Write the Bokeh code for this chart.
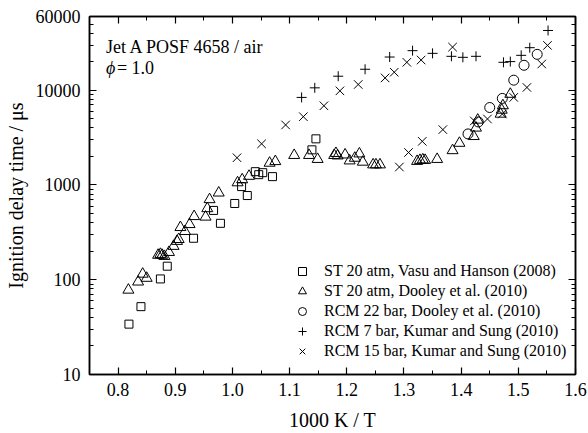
from bokeh.plotting import figure
from bokeh.models import (Range1d, LinearAxis, LogAxis, FixedTicker, PrintfTickFormatter,
                          Legend, LegendItem, Label)
from bokeh.embed import file_html
from bokeh.resources import INLINE

FONT = "Liberation Serif"

# ---- data ----
x_ticks = [0.8, 0.9, 1.0, 1.1, 1.2, 1.3, 1.4, 1.5, 1.6]
x_minor = [0.75, 0.85, 0.95, 1.05, 1.15, 1.25, 1.35, 1.45, 1.55]
y_ticks = [10, 100, 1000, 10000, 60000]
y_minor = [20, 30, 40, 50, 60, 70, 80, 90,
           200, 300, 400, 500, 600, 700, 800, 900,
           2000, 3000, 4000, 5000, 6000, 7000, 8000, 9000,
           20000, 30000, 40000, 50000]

vasu_x = [0.819, 0.840, 0.874, 0.886, 0.932, 0.967, 0.979, 1.004, 1.016, 1.026,
          1.040, 1.046, 1.053, 1.070, 1.139, 1.146]
vasu_y = [34, 52, 102, 139, 274, 539, 394, 638, 962, 774,
          1382, 1285, 1349, 1225, 2350, 3070]

dooley_st_x = [0.818, 0.835, 0.843, 0.850, 0.870, 0.874, 0.877, 0.881, 0.889, 0.897,
               0.903, 0.906, 0.909, 0.917, 0.925, 0.933, 0.953, 0.956, 0.960, 0.976,
               1.009, 1.017, 1.029, 1.065, 1.075, 1.108, 1.134, 1.149, 1.178, 1.181,
               1.184, 1.197, 1.205, 1.214, 1.222, 1.228, 1.246, 1.251, 1.258, 1.323,
               1.328, 1.333, 1.337, 1.358, 1.385, 1.397, 1.422, 1.426, 1.429, 1.469,
               1.471, 1.473, 1.486]
dooley_st_y = [78, 95, 115, 104, 182, 186, 182, 177, 195, 226,
               255, 267, 357, 324, 384, 466, 460, 565, 703, 826,
               1059, 1139, 1240, 1705, 1773, 2059, 2059, 1869, 2059, 2161,
               2034, 2084, 1803, 1924, 2135, 1748, 1637, 1637, 1637, 1781,
               1825, 1847, 1825, 1869, 2313, 2765, 3260, 4002, 4857, 5614,
               6183, 6892, 9100]

dooley_rcm_x = [1.412, 1.430, 1.450, 1.472, 1.492, 1.510, 1.533]
dooley_rcm_y = [3460, 4630, 6570, 8200, 12770, 18340, 23920]

kumar7_x = [1.121, 1.144, 1.185, 1.232, 1.275, 1.315, 1.350, 1.383, 1.403, 1.426,
            1.474, 1.486, 1.505, 1.520, 1.552]
kumar7_y = [8400, 10600, 14060, 16650, 22410, 26160, 24500, 22800, 22250, 22800,
            19710, 20050, 23350, 28120, 42720]

kumar15_x = [1.008, 1.051, 1.093, 1.124, 1.160, 1.188, 1.220, 1.267, 1.283, 1.292,
             1.305, 1.308, 1.330, 1.332, 1.368, 1.385, 1.423, 1.446, 1.472, 1.492,
             1.515, 1.541, 1.551]
kumar15_y = [1939, 2719, 4303, 5259, 6860, 9854, 11500, 13490, 15490, 1548,
             19710, 2203, 20840, 2888, 3841, 28530, 4740, 4974, 5614, 8403,
             10700, 18920, 29730]

labels = ["ST 20 atm, Vasu and Hanson (2008)",
          "ST 20 atm, Dooley et al. (2010)",
          "RCM 22 bar, Dooley et al. (2010)",
          "RCM 7 bar, Kumar and Sung (2010)",
          "RCM 15 bar, Kumar and Sung (2010)"]

# ---- figure ----
p = figure(width=588, height=433, x_range=Range1d(0.75, 1.6), y_range=Range1d(10, 60000),
           y_axis_type="log", output_backend="svg", toolbar_location=None,
           min_border_left=89, min_border_right=13, min_border_top=16, min_border_bottom=57)
p.grid.visible = False
p.background_fill_color = "white"
p.border_fill_color = "white"
p.outline_line_color = "black"
p.outline_line_width = 1.5


def style_axis(ax, show_labels=True):
    ax.axis_line_color = "black"
    ax.axis_line_width = 1.5
    ax.major_tick_line_color = "black"
    ax.minor_tick_line_color = "black"
    ax.major_tick_line_width = 1.2
    ax.minor_tick_line_width = 1.0
    ax.major_tick_in = 7
    ax.major_tick_out = 0
    ax.minor_tick_in = 4
    ax.minor_tick_out = 0
    ax.major_label_text_font = FONT
    if show_labels:
        ax.major_label_text_font_size = "18px"
        ax.major_label_text_color = "black"
    else:
        ax.major_label_text_font_size = "1px"
        ax.major_label_text_color = None
        ax.major_label_standoff = 0


xa = p.xaxis[0]
xa.ticker = FixedTicker(ticks=x_ticks, minor_ticks=x_minor)
xa.formatter = PrintfTickFormatter(format="%.1f")
style_axis(xa)
xa.major_label_standoff = 8
xa.axis_label = "1000 K / T"
xa.axis_label_text_font = FONT
xa.axis_label_text_font_size = "20px"
xa.axis_label_text_font_style = "normal"
xa.axis_label_text_color = "black"
xa.axis_label_standoff = 10

ya = p.yaxis[0]
ya.ticker = FixedTicker(ticks=y_ticks, minor_ticks=y_minor)
ya.formatter = PrintfTickFormatter(format="%d")
style_axis(ya)
ya.major_label_standoff = 9
ya.axis_label = "Ignition delay time / μs"
ya.axis_label_text_font = FONT
ya.axis_label_text_font_size = "20px"
ya.axis_label_text_font_style = "normal"
ya.axis_label_text_color = "black"
ya.axis_label_standoff = 6

top = LinearAxis(ticker=FixedTicker(ticks=x_ticks, minor_ticks=x_minor),
                 formatter=PrintfTickFormatter(format="%.1f"))
style_axis(top, show_labels=False)
p.add_layout(top, "above")
right = LogAxis(ticker=FixedTicker(ticks=y_ticks, minor_ticks=y_minor),
                formatter=PrintfTickFormatter(format="%d"))
style_axis(right, show_labels=False)
p.add_layout(right, "right")

common = dict(fill_color=None, line_color="black", line_width=1)
r1 = p.scatter(vasu_x, vasu_y, marker="square", size=8, **common)
r2 = p.scatter(dooley_st_x, dooley_st_y, marker="triangle", size=11, **common)
r3 = p.scatter(dooley_rcm_x, dooley_rcm_y, marker="circle", size=10, **common)
r4 = p.scatter(kumar7_x, kumar7_y, marker="cross", size=10, **common)
r5 = p.scatter(kumar15_x, kumar15_y, marker="x", size=12, **common)

legend = Legend(items=[LegendItem(label=l, renderers=[r]) for l, r in
                       zip(labels, [r1, r2, r3, r4, r5])],
                location=(203, 13), padding=0, margin=0, spacing=0,
                glyph_width=20, glyph_height=20, label_height=20, label_standoff=12,
                border_line_color=None, background_fill_alpha=0,
                label_text_font=FONT, label_text_font_size="16px", label_text_color="black")
p.add_layout(legend, "center")

for txt, x, y, style in [("Jet A POSF 4658 / air", 0.779, 28300, "normal"),
                         ("ϕ", 0.779, 17060, "italic"),
                         ("= 1.0", 0.798, 17060, "normal")]:
    p.add_layout(Label(x=x, y=y, text=txt, text_font=FONT, text_font_size="18px",
                       text_font_style=style, text_baseline="alphabetic", text_color="black"))

open("out.html", "w").write(file_html(p, INLINE))
